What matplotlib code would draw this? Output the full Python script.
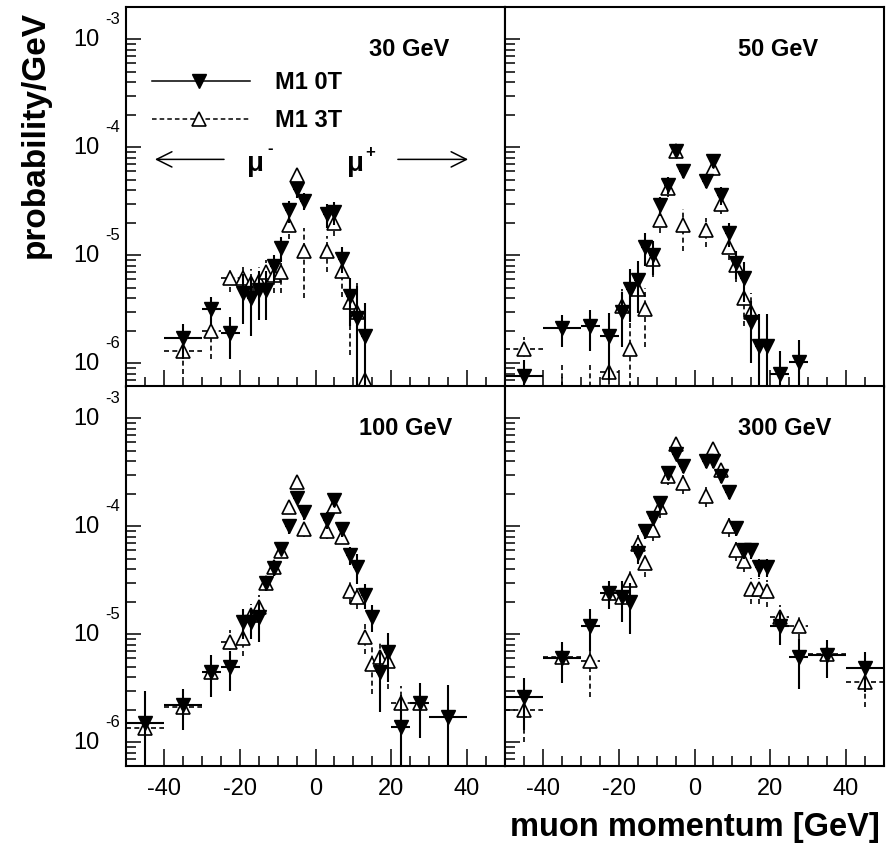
import numpy as np
import matplotlib.pyplot as plt
from matplotlib.ticker import FixedLocator, LogLocator, NullFormatter

plt.rcParams['font.family'] = ['Liberation Sans', 'DejaVu Sans']
plt.rcParams['axes.unicode_minus'] = False

# Step 1 : Data (probability/GeV per momentum bin, bin centres in GeV)
x30 = [-35, -27.5, -22.5, -19, -17, -15, -13, -11, -9, -7, -5, -3, 3, 5, 7, 9, 11, 13]
y30_0T = [1.7e-6, 3.2e-6, 1.9e-6, 4.5e-6, 4.0e-6, 4.8e-6, 4.8e-6, 7.9e-6, 1.17e-5, 2.6e-5, 4.1e-5, 3.2e-5,
          2.4e-5, 2.5e-5, 9.3e-6, 4.2e-6, 2.6e-6, 1.8e-6]
e30_0T = [0.6e-6, 0.9e-6, 0.8e-6, 2.2e-6, 2.2e-6, 2.3e-6, 2.3e-6, 2.2e-6, 3.0e-6, 6e-6, 7e-6, 6e-6,
          6e-6, 6e-6, 2.5e-6, 2.0e-6, 2.6e-6, 1.8e-6]
y30_3T = [1.3e-6, 2.0e-6, 6.1e-6, 6.1e-6, 5.5e-6, 5.8e-6, 7.0e-6, 6.5e-6, 7.0e-6, 1.9e-5, 5.5e-5, 1.1e-5,
          1.1e-5, 2.0e-5, 7.1e-6, 3.7e-6, 3.0e-6, 7.0e-7]
e30_3T = [0.5e-6, 0.9e-6, 1.5e-6, 2.0e-6, 2.0e-6, 2.0e-6, 2.0e-6, 2.0e-6, 2.5e-6, 5e-6, 1.0e-5, 7e-6,
          4e-6, 5e-6, 3e-6, 2.5e-6, 2.5e-6, 0.7e-6]

x50_0T = [-45, -35, -27.5, -22.5, -19, -17, -15, -13, -11, -9, -7, -5, -3,
          3, 5, 7, 9, 11, 13, 15, 17, 19, 22.5, 27.5]
y50_0T = [7.6e-7, 2.1e-6, 2.2e-6, 1.8e-6, 3.0e-6, 4.9e-6, 5.9e-6, 1.2e-5, 1.0e-5, 2.9e-5, 4.5e-5, 9.3e-5, 6.0e-5,
          4.9e-5, 7.5e-5, 3.6e-5, 1.6e-5, 8.5e-6, 6.2e-6, 2.4e-6, 1.45e-6, 1.45e-6, 7.9e-7, 1.03e-6]
e50_0T = [0.3e-6, 0.7e-6, 0.9e-6, 1.1e-6, 1.6e-6, 2.5e-6, 3.0e-6, 4e-6, 3.5e-6, 6e-6, 8e-6, 1.2e-5, 8e-6,
          7e-6, 1.0e-5, 7e-6, 4e-6, 2.5e-6, 2.5e-6, 1.4e-6, 1.4e-6, 1.4e-6, 0.5e-6, 0.6e-6]
x50_3T = [-45, -35, -27.5, -22.5, -19, -17, -15, -13, -11, -9, -7, -5, -3,
          3, 5, 7, 9, 11, 13, 15]
y50_3T = [1.35e-6, 4e-7, 4e-7, 8.3e-7, 3.4e-6, 1.35e-6, 4.9e-6, 3.2e-6, 9.3e-6, 2.1e-5, 4.2e-5, 9.3e-5, 1.9e-5,
          1.7e-5, 6.5e-5, 3.0e-5, 1.2e-5, 8.1e-6, 4.0e-6, 3.0e-6]
e50_3T = [0.4e-6, 0.6e-6, 0.6e-6, 0.3e-6, 1.5e-6, 1.3e-6, 2.0e-6, 1.8e-6, 3e-6, 5e-6, 7e-6, 1.2e-5, 8e-6,
          5e-6, 9e-6, 6e-6, 3e-6, 2.5e-6, 1.8e-6, 1.5e-6]

x100_0T = [-45, -35, -27.5, -22.5, -19, -17, -15, -13, -11, -9, -7, -5, -3,
           3, 5, 7, 9, 11, 13, 15, 17, 19, 22.5, 27.5, 35]
y100_0T = [1.5e-6, 2.2e-6, 4.5e-6, 5.0e-6, 1.3e-5, 1.3e-5, 1.45e-5, 3.0e-5, 4.1e-5, 6.2e-5, 1.0e-4, 1.85e-4, 1.35e-4,
           1.15e-4, 1.75e-4, 9.5e-5, 5.4e-5, 4.2e-5, 2.3e-5, 1.45e-5, 4.5e-6, 6.9e-6, 1.38e-6, 2.3e-6, 1.7e-6]
e100_0T = [1.45e-6, 0.9e-6, 1.9e-6, 2.0e-6, 4e-6, 4e-6, 6e-6, 5e-6, 6e-6, 8e-6, 1.5e-5, 2.5e-5, 2e-5,
           2e-5, 2.5e-5, 1.5e-5, 1.0e-5, 1.3e-5, 6e-6, 4e-6, 2.6e-6, 3.3e-6, 1.35e-6, 1.2e-6, 1.65e-6]
x100_3T = [-45, -35, -27.5, -22.5, -19, -17, -15, -13, -11, -9, -7, -5, -3,
           3, 5, 7, 9, 11, 13, 15, 17, 19, 22.5, 27.5]
y100_3T = [1.35e-6, 2.1e-6, 4.5e-6, 8.5e-6, 9.3e-6, 1.5e-5, 1.8e-5, 3.0e-5, 4.2e-5, 5.9e-5, 1.5e-4, 2.6e-4, 9.5e-5,
           9.1e-5, 1.55e-4, 8.0e-5, 2.5e-5, 2.2e-5, 9.5e-6, 5.3e-6, 6.1e-6, 5.6e-6, 2.3e-6, 2.3e-6]
e100_3T = [0.4e-6, 0.6e-6, 1.5e-6, 2.5e-6, 3e-6, 4e-6, 5e-6, 5e-6, 6e-6, 8e-6, 2e-5, 3e-5, 1.5e-5,
           1.5e-5, 2e-5, 1.2e-5, 6e-6, 5e-6, 3e-6, 2.5e-6, 2.5e-6, 2.5e-6, 1.0e-6, 1.0e-6]

x300 = [-45, -35, -27.5, -22.5, -19, -17, -15, -13, -11, -9, -7, -5, -3,
        3, 5, 7, 9, 11, 13, 15, 17, 19, 22.5, 27.5, 35, 45]
y300_0T = [2.6e-6, 6.0e-6, 1.2e-5, 2.4e-5, 2.2e-5, 2.0e-5, 5.7e-5, 9.1e-5, 1.2e-4, 1.65e-4, 3.1e-4, 4.7e-4, 3.6e-4,
           4.0e-4, 4.0e-4, 2.9e-4, 2.1e-4, 9.7e-5, 6.0e-5, 6.0e-5, 4.2e-5, 4.2e-5, 1.2e-5, 6.1e-6, 6.4e-6, 4.9e-6]
e300_0T = [1.3e-6, 2.5e-6, 5e-6, 7e-6, 9e-6, 1.0e-5, 1.2e-5, 1.5e-5, 2e-5, 2.5e-5, 4e-5, 6e-5, 5e-5,
           5e-5, 5e-5, 4e-5, 3e-5, 1.5e-5, 1.0e-5, 1.0e-5, 8e-6, 8e-6, 4e-6, 3e-6, 2.5e-6, 2.0e-6]
y300_3T = [2.0e-6, 6.1e-6, 5.6e-6, 2.4e-5, 2.2e-5, 3.2e-5, 6.8e-5, 4.6e-5, 9.3e-5, 1.5e-4, 2.9e-4, 5.8e-4, 2.5e-4,
           1.9e-4, 5.2e-4, 3.3e-4, 1.0e-4, 6.0e-5, 4.8e-5, 2.6e-5, 2.6e-5, 2.5e-5, 1.45e-5, 1.2e-5, 6.5e-6, 3.6e-6]
e300_3T = [1.0e-6, 2e-6, 3e-6, 6e-6, 6e-6, 8e-6, 1.5e-5, 1.2e-5, 2e-5, 3e-5, 5e-5, 8e-5, 5e-5,
           4e-5, 8e-5, 5e-5, 2e-5, 1.2e-5, 1.0e-5, 7e-6, 7e-6, 7e-6, 4e-6, 3e-6, 2e-6, 1.5e-6]

energies = ["30 GeV", "50 GeV", "100 GeV", "300 GeV"]
series_0T = [(x30, y30_0T, e30_0T), (x50_0T, y50_0T, e50_0T), (x100_0T, y100_0T, e100_0T), (x300, y300_0T, e300_0T)]
series_3T = [(x30, y30_3T, e30_3T), (x50_3T, y50_3T, e50_3T), (x100_3T, y100_3T, e100_3T), (x300, y300_3T, e300_3T)]
decades = [-3, -4, -5, -6]
xticks = [-40, -20, 0, 20, 40]


def half_width(x):
    # variable binning: 10 GeV tails, 5 GeV shoulders, 2 GeV core
    a = abs(x)
    return 5.0 if a > 30 else (2.5 if a > 20 else 1.0)


# Step 2 : Figure with 4 touching pads
W, H = 895, 845
fig = plt.figure(figsize=(W / 100, H / 100), dpi=100)
boxes = [(126, 8), (505, 8), (126, 387), (505, 387)]
pw, ph = 379, 380
axes = []
for (px, py) in boxes:
    ax = fig.add_axes([px / W, 1 - (py + ph) / H, pw / W, ph / H])
    axes.append(ax)

dash = (0, (3, 2))

for i, ax in enumerate(axes):
    ax.set_yscale('log')
    ax.set_xlim(-50, 50)
    ax.set_ylim(6e-7, 2e-3)

    # M1 3T : open triangles, dashed errors
    x, y, e = series_3T[i]
    xe = [half_width(v) for v in x]
    eb = ax.errorbar(x, y, yerr=e, xerr=xe, fmt='^', ms=10, mfc='white', mec='black', mew=1.2,
                     ecolor='black', elinewidth=1.2, capsize=0, zorder=2)
    for c in eb[2]:
        c.set_linestyle(dash)

    # M1 0T : full triangles, solid errors
    x, y, e = series_0T[i]
    xe = [half_width(v) for v in x]
    ax.errorbar(x, y, yerr=e, xerr=xe, fmt='v', ms=10, mfc='black', mec='black',
                ecolor='black', elinewidth=1.5, capsize=0, zorder=3)

    # frame and ticks (left + bottom only, pointing inwards)
    for s in ax.spines.values():
        s.set_linewidth(1.5)
    ax.xaxis.set_major_locator(FixedLocator(xticks))
    ax.xaxis.set_minor_locator(FixedLocator([v for v in range(-45, 50, 5) if v not in xticks]))
    ax.yaxis.set_major_locator(LogLocator(base=10, numticks=10))
    ax.yaxis.set_minor_locator(LogLocator(base=10, subs=np.arange(2, 10), numticks=10))
    ax.yaxis.set_major_formatter(NullFormatter())
    ax.yaxis.set_minor_formatter(NullFormatter())
    ax.tick_params(which='both', direction='in', top=False, right=False, width=1.1)
    ax.tick_params(axis='y', which='major', length=11)
    ax.tick_params(axis='y', which='minor', length=7)
    ax.tick_params(axis='x', which='major', length=12, labelsize=17, pad=8)
    ax.tick_params(axis='x', which='minor', length=7)
    if i < 2:
        ax.set_xticklabels([])

    # energy label
    ax.text(0.615 if i else 0.64, 0.89, energies[i], transform=ax.transAxes,
            fontsize=17, fontweight='bold', ha='left', va='center')

    # 10^n labels on the left pads
    if i % 2 == 0:
        for d in decades:
            ax.annotate('10', xy=(0, 10.0 ** d), xycoords=('axes fraction', 'data'),
                        xytext=(-26, 0), textcoords='offset pixels',
                        ha='right', va='center', fontsize=17)
            ax.annotate(str(d), xy=(0, 10.0 ** d), xycoords=('axes fraction', 'data'),
                        xytext=(-21, 21), textcoords='offset pixels',
                        ha='left', va='center', fontsize=12)

# Step 3 : Legend and charge arrows in the 30 GeV pad
ax = axes[0]
tr = ax.transAxes
ax.plot([0.069, 0.327], [0.805, 0.805], color='black', lw=1.1, transform=tr, clip_on=False)
ax.plot([0.193], [0.805], 'v', ms=10, color='black', transform=tr)
ax.text(0.393, 0.805, 'M1 0T', transform=tr, fontsize=17, fontweight='bold', va='center')
ax.plot([0.069, 0.327], [0.705, 0.705], color='black', lw=1.1, ls=dash, transform=tr, clip_on=False)
ax.plot([0.193], [0.705], '^', ms=10, mfc='white', mec='black', mew=1.2, transform=tr)
ax.text(0.393, 0.705, 'M1 3T', transform=tr, fontsize=17, fontweight='bold', va='center')

arrow = dict(arrowstyle='->,head_length=1.1,head_width=0.55', lw=1.1, color='black')
ax.annotate('', xy=(0.069, 0.599), xytext=(0.266, 0.599), xycoords=tr, arrowprops=arrow)
ax.annotate('', xy=(0.91, 0.599), xytext=(0.71, 0.599), xycoords=tr, arrowprops=arrow)
ax.text(0.319, 0.590, 'μ', transform=tr, fontsize=20, fontweight='bold', ha='left', va='center')
ax.text(0.372, 0.630, '-', transform=tr, fontsize=12, fontweight='bold', ha='left', va='center')
ax.text(0.583, 0.590, 'μ', transform=tr, fontsize=20, fontweight='bold', ha='left', va='center')
ax.text(0.632, 0.620, '+', transform=tr, fontsize=12, fontweight='bold', ha='left', va='center')

# Step 4 : Axis titles
fig.text(35 / W, 1 - 135 / H, 'probability/GeV', rotation=90, fontsize=24, fontweight='bold',
         ha='center', va='center')
fig.text(880 / W, 1 - 836 / H, 'muon momentum [GeV]', fontsize=23.5, fontweight='bold',
         ha='right', va='baseline')

fig.savefig('out.png', dpi=100)
